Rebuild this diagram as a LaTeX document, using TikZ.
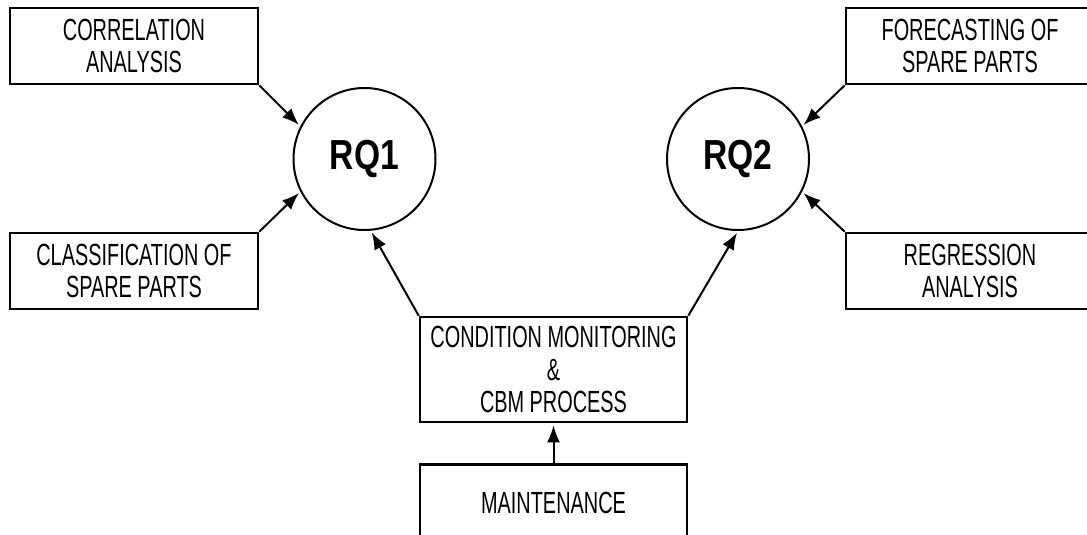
\documentclass[tikz,border=0pt]{standalone}
\usepackage{fontspec}
\setmainfont{Liberation Sans}[FakeStretch=0.65]
\newfontfamily\rqfont{Liberation Sans}[FakeStretch=0.8]
\usetikzlibrary{positioning, arrows.meta}

\begin{document}
\begin{tikzpicture}[x=0.5pt, y=-0.5pt,
    > = {Latex[length=8.5pt, width=6.5pt]},
    every node/.style={font=\fontsize{15.3}{16.3}\selectfont},
    box/.style={draw, line width=1.3pt, rectangle, align=center,
        inner sep=0pt, minimum width=124pt, minimum height=38pt},
    rq/.style={draw, line width=1pt, circle, inner sep=0pt,
        minimum size=71pt, font=\rqfont\bfseries\fontsize{21}{24}\selectfont},
    link/.style={->, line width=1pt, shorten >=1pt}
]
    \useasboundingbox (0,0) rectangle (1087,535);

    \node [rq] (rq1) at (364.5,159) {RQ1};
    \node [rq] (rq2) at (738,159) {RQ2};

    \node [box] (corr) at (134,46) {CORRELATION\\ANALYSIS};
    \node [box] (class) at (134,271) {CLASSIFICATION OF\\SPARE PARTS};
    \node [box] (fore) at (970,46) {FORECASTING OF\\SPARE PARTS};
    \node [box] (regr) at (970,271) {REGRESSION\\ANALYSIS};

    \node [box, minimum width=133.5pt, minimum height=52.5pt
    ] (cm) at (553.5,369.5) {CONDITION MONITORING\\\&\\CBM PROCESS};
    \node [box, minimum width=133.5pt,
        below=20pt of cm
    ] (maint) {MAINTENANCE};

    % arrows
    \draw [link] (corr.south east) -- (rq1.153);
    \draw [link] (class.north east) -- (rq1.207);
    \draw [link] (fore.south west) -- (rq2.27);
    \draw [link] (regr.north west) -- (rq2.-27);
    \draw [link] (cm.north west) -- (rq1.-85);
    \draw [link] (cm.north east) -- (rq2.-90);
    \draw [link] (maint) -- (cm);
\end{tikzpicture}
\end{document}
